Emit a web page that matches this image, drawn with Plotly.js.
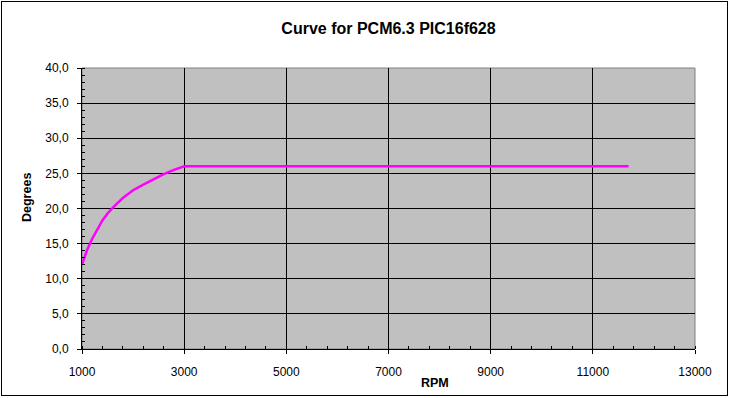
<!DOCTYPE html>
<html>
<head>
<meta charset="utf-8">
<script src="https://cdn.plot.ly/plotly-3.0.1.min.js"></script>
<style>
html,body{margin:0;padding:0;background:#fff;}
#wrap{position:relative;width:730px;height:398px;}
#chart{width:730px;height:398px;}
#frame{position:absolute;left:1px;top:1px;width:725px;height:393px;border:1px solid #000;pointer-events:none;}
</style>
</head>
<body>
<div id="wrap"><div id="chart"></div><div id="frame"></div></div>
<script>
const rpm     = [1000, 1100, 1200, 1300, 1400, 1500, 1600, 1800, 2000, 2200, 2400, 2600, 2800, 3000, 11700];
const degrees = [12.0, 14.1, 15.7, 17.1, 18.3, 19.3, 20.1, 21.5, 22.6, 23.4, 24.2, 24.9, 25.5, 26.0, 26.0];
const xTicks = [1000, 3000, 5000, 7000, 9000, 11000, 13000];
const yTicks = [0, 5, 10, 15, 20, 25, 30, 35, 40];
const chartTitle = 'Curve for PCM6.3 PIC16f628';
const xTitle = 'RPM';
const yTitle = 'Degrees';

const font = 'Arial, "Liberation Sans", sans-serif';
const L = 82, R = 695, T = 68, B = 349;

Plotly.newPlot('chart', [{
  x: rpm, y: degrees, type: 'scatter', mode: 'lines',
  line: {color: '#FF00FF', width: 2.5},
  hoverinfo: 'skip', showlegend: false
}], {
  width: 730, height: 398,
  margin: {l: L, r: 730 - R, t: T, b: 398 - B, pad: 0},
  paper_bgcolor: '#ffffff',
  plot_bgcolor: '#C0C0C0',
  separators: ',.',
  font: {family: font, size: 12, color: '#000'},
  title: {text: '<b>' + chartTitle + '</b>', font: {family: font, size: 16, color: '#000'}, x: 0.5, xanchor: 'center', xref: 'paper', y: 1 - 28 / 398, yanchor: 'middle'},
  xaxis: {
    range: [1000, 13000], tickvals: xTicks, ticktext: xTicks.map(String),
    showgrid: true, gridcolor: '#000', gridwidth: 1,
    showline: true, linecolor: '#000', linewidth: 1,
    ticks: 'outside', ticklen: 4, tickcolor: '#000', tickwidth: 1,
    ticklabelstandoff: 8,
    minor: {dtick: 400, tick0: 1000, ticks: 'inside', ticklen: 3, tickcolor: '#000', showgrid: false},
    tickfont: {family: font, size: 12}, zeroline: false, fixedrange: true
  },
  yaxis: {
    range: [0, 40], tickvals: yTicks, tickformat: '.1f',
    showgrid: true, gridcolor: '#000', gridwidth: 1,
    showline: true, linecolor: '#000', linewidth: 1,
    ticks: 'outside', ticklen: 4, tickcolor: '#000', tickwidth: 1,
    ticklabelstandoff: 6,
    minor: {dtick: 1, ticks: 'inside', ticklen: 3, tickcolor: '#000', showgrid: false},
    tickfont: {family: font, size: 12}, zeroline: false, fixedrange: true
  },
  shapes: [{type: 'rect', xref: 'paper', yref: 'paper', x0: 0, x1: 1, y0: 0, y1: 1, line: {color: '#808080', width: 1}, layer: 'below'}],
  annotations: [
    {text: '<b>' + xTitle + '</b>', xref: 'paper', yref: 'paper', x: (435 - L) / (R - L), y: -(383 - B) / (B - T), xanchor: 'center', yanchor: 'middle', showarrow: false, font: {family: font, size: 12.5}},
    {text: '<b>' + yTitle + '</b>', xref: 'paper', yref: 'paper', x: -(L - 27) / (R - L), y: (B - 198) / (B - T), xanchor: 'center', yanchor: 'middle', textangle: -90, showarrow: false, font: {family: font, size: 12.5}}
  ]
}, {staticPlot: true, displayModeBar: false});
</script>
</body>
</html>
